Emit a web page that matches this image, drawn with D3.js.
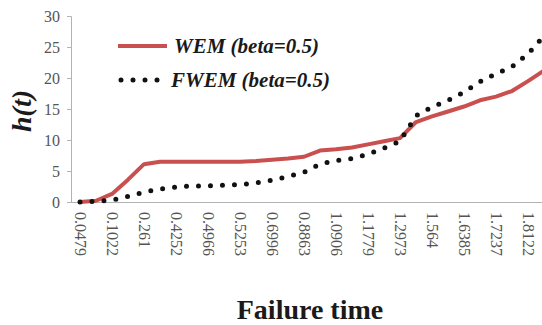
<!DOCTYPE html>
<html>
<head>
<meta charset="utf-8">
<script src="https://cdn.jsdelivr.net/npm/d3@7/dist/d3.min.js"></script>
<style>
  html, body { margin: 0; padding: 0; background: #fff; }
  svg { display: block; }
</style>
</head>
<body>
<svg id="chart" width="542" height="325"></svg>
<script>
// Failure-time categories (every other one carries a printed label)
const categoryIndex = d3.range(30);
const tickLabels = ["0.0479", "0.1022", "0.261", "0.4252", "0.4966", "0.5253", "0.6996",
  "0.8863", "1.0906", "1.1779", "1.2973", "1.564", "1.6385", "1.7237", "1.8122"];

// Hazard values h(t) per category
const wemValues = [0, 0.2, 1.3, 3.6, 6.1, 6.5, 6.5, 6.5, 6.5, 6.5, 6.5, 6.6, 6.8, 7.0, 7.3,
  8.3, 8.5, 8.8, 9.3, 9.8, 10.3, 12.9, 13.8, 14.6, 15.4, 16.4, 17.0, 17.9, 19.5, 21.2];
const fwemValues = [0, 0.1, 0.3, 0.9, 1.6, 2.1, 2.4, 2.6, 2.6, 2.7, 2.8, 3.1, 3.5, 4.1, 4.8,
  6.1, 6.7, 7.0, 7.7, 8.7, 9.8, 13.9, 15.3, 16.4, 17.7, 19.4, 20.7, 21.8, 23.9, 26.8];

const yTicks = [0, 5, 10, 15, 20, 25, 30];
const seriesNames = ["WEM (beta=0.5)", "FWEM (beta=0.5)"];

const svg = d3.select("#chart");
const serif = "\"Liberation Serif\"";

const plot = { left: 72, right: 552, top: 16, bottom: 202 };

const x = d3.scalePoint()
  .domain(categoryIndex)
  .range([plot.left, plot.right])
  .padding(0.5);

const y = d3.scaleLinear()
  .domain([0, 30])
  .range([plot.bottom, plot.top]);

// Y axis
const yAxis = svg.append("g")
  .attr("transform", `translate(${plot.left - 1},0)`)
  .call(d3.axisLeft(y).tickValues(yTicks).tickSize(4).tickPadding(7));
yAxis.select(".domain").attr("stroke", "#b3b3b3");
yAxis.selectAll(".tick line").attr("stroke", "#b3b3b3");
yAxis.selectAll(".tick text")
  .style("font-family", serif)
  .style("font-size", "16px")
  .attr("fill", "#555");

// X axis line
svg.append("line")
  .attr("x1", plot.left - 1).attr("x2", plot.right)
  .attr("y1", y(0) + 0.5).attr("y2", y(0) + 0.5)
  .attr("stroke", "#b3b3b3");

// X tick labels (rotated, every second category)
const labelled = categoryIndex.filter(i => i % 2 === 0);
svg.append("g").selectAll("text")
  .data(labelled)
  .join("text")
  .attr("transform", i => `translate(${x(i)},${plot.bottom + 10}) rotate(90)`)
  .attr("dy", "0.33em")
  .attr("text-anchor", "start")
  .style("font-family", serif)
  .style("font-size", "16px")
  .attr("fill", "#555")
  .text(i => tickLabels[i / 2]);

// Series lines
const line = d3.line()
  .x((d, i) => x(categoryIndex[i]))
  .y(d => y(d));

svg.append("path")
  .datum(wemValues)
  .attr("d", line)
  .attr("fill", "none")
  .attr("stroke", "#c9504f")
  .attr("stroke-width", 4)
  .attr("stroke-linejoin", "round");

svg.append("path")
  .datum(fwemValues)
  .attr("d", line)
  .attr("fill", "none")
  .attr("stroke", "#111")
  .attr("stroke-width", 5)
  .attr("stroke-linecap", "round")
  .attr("stroke-dasharray", "0,12");

// Legend
const legend = svg.append("g");
legend.append("line")
  .attr("x1", 118).attr("x2", 167).attr("y1", 46).attr("y2", 46)
  .attr("stroke", "#c9504f").attr("stroke-width", 4);
legend.append("line")
  .attr("x1", 121).attr("x2", 160).attr("y1", 80).attr("y2", 80)
  .attr("stroke", "#111").attr("stroke-width", 5)
  .attr("stroke-linecap", "round").attr("stroke-dasharray", "0,12");
legend.selectAll("text")
  .data(seriesNames)
  .join("text")
  .attr("x", (d, i) => i === 0 ? 174 : 171)
  .attr("y", (d, i) => i === 0 ? 53 : 87)
  .style("font-family", serif)
  .style("font-size", "21px")
  .style("font-weight", "bold")
  .style("font-style", "italic")
  .attr("fill", "#1a1a1a")
  .text(d => d);

// Axis titles
svg.append("text")
  .attr("transform", "translate(31,111) rotate(-90)")
  .attr("text-anchor", "middle")
  .style("font-family", serif)
  .style("font-size", "28px")
  .style("font-weight", "bold")
  .style("font-style", "italic")
  .attr("fill", "#1a1a1a")
  .text("h(t)");

svg.append("text")
  .attr("x", 310)
  .attr("y", 319)
  .attr("text-anchor", "middle")
  .style("font-family", serif)
  .style("font-size", "28px")
  .style("font-weight", "bold")
  .attr("fill", "#1a1a1a")
  .text("Failure time");
</script>
</body>
</html>
